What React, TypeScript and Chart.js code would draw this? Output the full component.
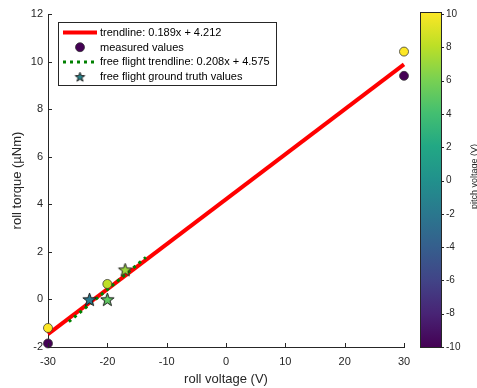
import React, { useEffect, useRef } from 'react';
import { Chart, registerables } from 'chart.js';
Chart.register(...registerables);

// ---- data ----
const xTickStep = 10;
const yTickStep = 2;
const xRange = [-30, 30];
const yRange = [-2, 12];
const pitchRange = [-10, 10];

const trendX = [-30, 30];
const trendY = [-1.458, 9.882];
const ffTrendX = [-26.5, -13.5];
const ffTrendY = [-0.937, 1.767];

const measuredX = [-30, -30, -20, 30, 30];
const measuredY = [-1.85, -1.2, 0.65, 10.42, 9.4];
const measuredPitch = [-10, 10, 8, 10, -10];

const starX = [-23, -20, -17];
const starY = [0.0, 0.0, 1.25];
const starPitch = [-2, 5, 7];

const legendLabels = [
  'trendline: 0.189x + 4.212',
  'measured values',
  'free flight trendline: 0.208x + 4.575',
  'free flight ground truth values',
];

const xTitle = 'roll voltage (V)';
const yTitle = 'roll torque (\u00b5Nm)';
const cbTitle = 'pitch voltage (V)';

// ---- colormap ----
const viridisStops = ['#440154', '#482475', '#414487', '#355f8d', '#2a788e', '#21918c', '#22a884', '#44bf70', '#7ad151', '#bddf26', '#fde725'];
function hexToRgb(h: string) {
  return [parseInt(h.slice(1, 3), 16), parseInt(h.slice(3, 5), 16), parseInt(h.slice(5, 7), 16)];
}
function viridis(t: number) {
  t = Math.max(0, Math.min(1, t));
  const n = viridisStops.length - 1;
  const f = t * n;
  const i = Math.min(n - 1, Math.floor(f));
  const fr = f - i;
  const a = hexToRgb(viridisStops[i]);
  const b = hexToRgb(viridisStops[i + 1]);
  const c = a.map((v, k) => Math.round(v + (b[k] - v) * fr));
  return `rgb(${c[0]},${c[1]},${c[2]})`;
}
const normPitch = (p: number) => (p - pitchRange[0]) / (pitchRange[1] - pitchRange[0]);

function makeStar(color: string, R: number) {
  const c = document.createElement('canvas');
  const s = Math.ceil(2 * R + 3);
  c.width = s;
  c.height = s;
  const ctx = c.getContext('2d')!;
  const cx = s / 2, cy = s / 2 + 0.6;
  ctx.beginPath();
  for (let k = 0; k < 10; k++) {
    const ang = -Math.PI / 2 + (k * Math.PI) / 5;
    const r = k % 2 === 0 ? R : R * 0.4;
    const x = cx + r * Math.cos(ang);
    const y = cy + r * Math.sin(ang);
    if (k === 0) ctx.moveTo(x, y); else ctx.lineTo(x, y);
  }
  ctx.closePath();
  ctx.fillStyle = color;
  ctx.fill();
  ctx.lineWidth = 1;
  ctx.strokeStyle = '#1a1a1a';
  ctx.stroke();
  return c;
}

const FONT = '"Liberation Sans", Arial, Helvetica, sans-serif';
const AXIS_COLOR = '#262626';
const RED = 'rgb(255,0,0)';
const GREEN = 'rgb(0,128,0)';

const noPadV = (w: number) => (s: any) => { s.width = w; s.paddingTop = 0; s.paddingBottom = 0; };

export default function App() {
  const ref = useRef<HTMLCanvasElement>(null);
  useEffect(() => {
    document.body.style.margin = '0';
    const canvas = ref.current!;
    const starImgs = starPitch.map((p) => makeStar(viridis(normPitch(p)), 7));
    const legendStar = makeStar(viridis(0.45), 5);

    const overlay = {
      id: 'overlay',
      afterDraw(chart: any) {
        const ctx = chart.ctx as CanvasRenderingContext2D;
        const area = chart.chartArea;
        const xs = chart.scales.x;
        const ys = chart.scales.y;
        const cb = chart.scales.cb;
        ctx.save();
        // inward tick marks
        ctx.strokeStyle = AXIS_COLOR;
        ctx.lineWidth = 1;
        ctx.beginPath();
        xs.ticks.forEach((t: any) => {
          const px = Math.round(xs.getPixelForValue(t.value)) + 0.5;
          ctx.moveTo(px, area.bottom);
          ctx.lineTo(px, area.bottom - 4);
        });
        ys.ticks.forEach((t: any) => {
          const py = Math.round(ys.getPixelForValue(t.value)) + 0.5;
          ctx.moveTo(area.left, py);
          ctx.lineTo(area.left + 4, py);
        });
        ctx.stroke();

        // colorbar
        const bl = cb.left + 16;
        const br = cb.left + 37;
        const bt = cb.getPixelForValue(pitchRange[1]) - 2;
        const bb = cb.getPixelForValue(pitchRange[0]);
        const g = ctx.createLinearGradient(0, bb, 0, bt);
        viridisStops.forEach((c, i) => g.addColorStop(i / (viridisStops.length - 1), c));
        ctx.fillStyle = g;
        ctx.fillRect(bl, bt, br - bl, bb - bt);
        ctx.strokeStyle = AXIS_COLOR;
        ctx.lineWidth = 1;
        ctx.strokeRect(Math.round(bl) + 0.5, Math.round(bt) + 0.5, Math.round(br - bl), Math.round(bb - bt));
        ctx.beginPath();
        cb.ticks.forEach((t: any) => {
          const py = Math.round(cb.getPixelForValue(t.value)) + 0.5;
          ctx.moveTo(br, py);
          ctx.lineTo(br + 3, py);
        });
        ctx.stroke();
        // colorbar title
        ctx.save();
        ctx.translate(cb.left + 71, (bt + bb) / 2 - 3);
        ctx.rotate(-Math.PI / 2);
        ctx.font = `9px ${FONT}`;
        ctx.fillStyle = AXIS_COLOR;
        ctx.textAlign = 'center';
        ctx.textBaseline = 'middle';
        ctx.fillText(cbTitle, 0, 0);
        ctx.restore();

        // legend
        const lx = area.left + 10.5;
        const ly = area.top + 8.5;
        const lw = 218;
        const lh = 63;
        ctx.fillStyle = '#fff';
        ctx.fillRect(lx, ly, lw, lh);
        ctx.strokeStyle = AXIS_COLOR;
        ctx.lineWidth = 1;
        ctx.strokeRect(lx, ly, lw, lh);
        const rowY = (i: number) => ly + 10 + i * 14.7;
        const sx0 = lx + 4.5, sx1 = lx + 38.5, scx = lx + 21.5;
        // row 0: red line
        ctx.strokeStyle = RED;
        ctx.lineWidth = 4;
        ctx.beginPath();
        ctx.moveTo(sx0, rowY(0));
        ctx.lineTo(sx1, rowY(0));
        ctx.stroke();
        // row 1: circle
        ctx.beginPath();
        ctx.arc(scx, rowY(1), 4.5, 0, Math.PI * 2);
        ctx.fillStyle = viridisStops[0];
        ctx.fill();
        ctx.lineWidth = 0.75;
        ctx.strokeStyle = '#333';
        ctx.stroke();
        // row 2: dotted green
        ctx.strokeStyle = GREEN;
        ctx.lineWidth = 3;
        ctx.setLineDash([3, 4]);
        ctx.beginPath();
        ctx.moveTo(sx0, rowY(2));
        ctx.lineTo(sx1, rowY(2));
        ctx.stroke();
        ctx.setLineDash([]);
        // row 3: star
        ctx.drawImage(legendStar, scx - legendStar.width / 2, rowY(3) - legendStar.height / 2);
        // texts
        ctx.fillStyle = '#000';
        ctx.font = `11px ${FONT}`;
        ctx.textAlign = 'left';
        ctx.textBaseline = 'middle';
        legendLabels.forEach((t, i) => ctx.fillText(t, lx + 41.5, rowY(i) + 0.5));
        ctx.restore();
      },
    };

    const chart = new Chart(canvas, {
      type: 'scatter',
      data: {
        datasets: [
          {
            label: legendLabels[0],
            data: trendX.map((x, i) => ({ x, y: trendY[i] })),
            showLine: true,
            borderColor: RED,
            borderWidth: 4,
            pointRadius: 0,
            borderCapStyle: 'butt',
            clip: false,
            order: 4,
          },
          {
            label: legendLabels[2],
            data: ffTrendX.map((x, i) => ({ x, y: ffTrendY[i] })),
            showLine: true,
            borderColor: GREEN,
            borderWidth: 3,
            borderDash: [3, 4],
            pointRadius: 0,
            clip: false,
            order: 3,
          },
          {
            label: legendLabels[1],
            data: measuredX.map((x, i) => ({ x, y: measuredY[i] })),
            pointRadius: 4.5,
            pointBackgroundColor: measuredPitch.map((p) => viridis(normPitch(p))),
            pointBorderColor: '#333',
            pointBorderWidth: 0.75,
            clip: false,
            order: 2,
          },
          {
            label: legendLabels[3],
            data: starX.map((x, i) => ({ x, y: starY[i] })),
            pointRadius: 6,
            pointStyle: starImgs as any,
            clip: false,
            order: 1,
          },
        ],
      },
      options: {
        animation: false,
        responsive: false,
        devicePixelRatio: 1,
        layout: { padding: { top: 14, left: 0, right: 0, bottom: 0 } },
        plugins: { legend: { display: false }, tooltip: { enabled: false } },
        scales: {
          x: {
            type: 'linear',
            position: 'bottom',
            min: xRange[0],
            max: xRange[1],
            ticks: { stepSize: xTickStep, padding: 8, color: AXIS_COLOR, font: { size: 11, family: FONT }, maxRotation: 0 },
            grid: { display: false, drawTicks: false },
            border: { display: true, color: AXIS_COLOR, width: 1 },
            title: { display: true, text: xTitle, color: AXIS_COLOR, font: { size: 13, family: FONT }, padding: { top: 0, bottom: 1 } },
            afterFit: (s: any) => { s.height = 41; s.paddingLeft = 0; s.paddingRight = 0; },
          },
          y: {
            type: 'linear',
            position: 'left',
            min: yRange[0],
            max: yRange[1],
            ticks: { stepSize: yTickStep, padding: 5, color: AXIS_COLOR, font: { size: 11, family: FONT } },
            grid: { display: false, drawTicks: false },
            border: { display: true, color: AXIS_COLOR, width: 1 },
            title: { display: true, text: yTitle, color: AXIS_COLOR, font: { size: 13, family: FONT }, padding: { top: 10, bottom: 0 } },
            afterFit: noPadV(48),
          },
          cb: {
            type: 'linear',
            position: 'right',
            min: pitchRange[0],
            max: pitchRange[1],
            ticks: { stepSize: 2, padding: 42, color: AXIS_COLOR, font: { size: 10, family: FONT } },
            grid: { display: false, drawTicks: false },
            border: { display: false },
            afterFit: noPadV(73),
          },
        },
      } as any,
      plugins: [overlay],
    });
    return () => chart.destroy();
  }, []);
  return (
    <div style={{ width: 477, height: 388 }}>
      <canvas ref={ref} width={477} height={388} style={{ display: 'block' }} />
    </div>
  );
}
